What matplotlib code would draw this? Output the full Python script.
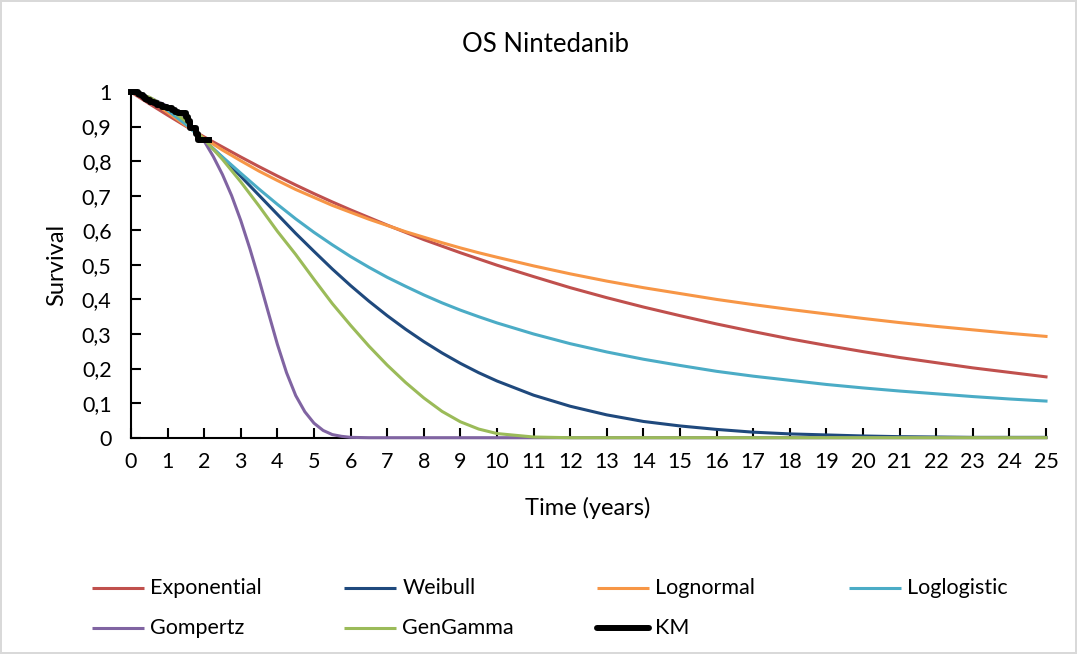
import numpy as np
import matplotlib.pyplot as plt
from matplotlib.lines import Line2D

plt.rcParams['font.family'] = ['Lato', 'DejaVu Sans']

# -------------------------------
# Data: fitted survival curves (years)
# -------------------------------
t_fit = [0, 0.5, 1, 1.5, 2, 2.5, 3, 3.5, 4, 4.5, 5, 5.5, 6, 6.5, 7, 7.5, 8, 8.5, 9, 9.5, 10,
         11, 12, 13, 14, 15, 16, 17, 18, 19, 20, 21, 22, 23, 24, 25]

exponential = [1, 0.966, 0.933, 0.901, 0.870, 0.841, 0.812, 0.784, 0.757, 0.731, 0.706,
               0.682, 0.659, 0.637, 0.615, 0.594, 0.573, 0.554, 0.535, 0.517, 0.499,
               0.466, 0.434, 0.405, 0.378, 0.353, 0.329, 0.307, 0.286, 0.267, 0.249,
               0.232, 0.217, 0.202, 0.189, 0.176]
weibull = [1, 0.983, 0.950, 0.909, 0.861, 0.810, 0.756, 0.701, 0.646, 0.591, 0.539,
           0.488, 0.440, 0.395, 0.353, 0.314, 0.278, 0.245, 0.215, 0.188, 0.164,
           0.123, 0.091, 0.066, 0.047, 0.034, 0.024, 0.016, 0.011, 0.008, 0.005,
           0.003, 0.002, 0.001, 0.001, 0.001]
lognormal = [1, 0.978, 0.941, 0.903, 0.866, 0.832, 0.801, 0.771, 0.744, 0.718, 0.695,
             0.672, 0.652, 0.632, 0.614, 0.596, 0.580, 0.564, 0.549, 0.535, 0.522,
             0.497, 0.474, 0.453, 0.434, 0.417, 0.400, 0.385, 0.371, 0.358, 0.345,
             0.333, 0.322, 0.312, 0.302, 0.293]
loglogistic = [1, 0.982, 0.947, 0.906, 0.859, 0.812, 0.765, 0.719, 0.675, 0.633, 0.594,
               0.558, 0.524, 0.493, 0.464, 0.438, 0.413, 0.390, 0.369, 0.350, 0.332,
               0.300, 0.272, 0.248, 0.227, 0.209, 0.192, 0.178, 0.166, 0.154, 0.144,
               0.135, 0.127, 0.119, 0.112, 0.106]
gengamma = [1, 0.985, 0.955, 0.915, 0.863, 0.805, 0.740, 0.670, 0.597, 0.530, 0.458,
            0.388, 0.325, 0.265, 0.210, 0.160, 0.115, 0.076, 0.046, 0.025, 0.012,
            0.002, 0, 0, 0, 0, 0, 0, 0, 0, 0, 0, 0, 0, 0, 0]

# Gompertz drops fast, so it has its own finer time grid
t_gomp = [0, 0.5, 1, 1.5, 2, 2.25, 2.5, 2.75, 3, 3.25, 3.5, 3.75, 4, 4.25, 4.5, 4.75,
          5, 5.25, 5.5, 5.75, 6, 6.5, 25]
gompertz = [1, 0.984, 0.959, 0.919, 0.858, 0.813, 0.761, 0.700, 0.628, 0.546, 0.457,
            0.363, 0.270, 0.188, 0.122, 0.075, 0.042, 0.021, 0.009, 0.004, 0.001, 0, 0]

# Kaplan-Meier steps
km_t = [0, 0.18, 0.25, 0.32, 0.38, 0.45, 0.52, 0.62, 0.72, 0.85, 0.97, 1.12, 1.2,
        1.28, 1.5, 1.56, 1.62, 1.78, 1.83, 2.14]
km_s = [1.0, 0.995, 0.99, 0.985, 0.98, 0.976, 0.972, 0.967, 0.962, 0.957, 0.953,
        0.948, 0.942, 0.938, 0.928, 0.915, 0.895, 0.878, 0.862, 0.862]

x_ticks = list(range(0, 26))
y_ticks = [0, 0.1, 0.2, 0.3, 0.4, 0.5, 0.6, 0.7, 0.8, 0.9, 1]
y_ticklabels = ['0', '0,1', '0,2', '0,3', '0,4', '0,5', '0,6', '0,7', '0,8', '0,9', '1']

series = [
    ('Exponential', t_fit, exponential, '#C0504D'),
    ('Weibull', t_fit, weibull, '#1F497D'),
    ('Lognormal', t_fit, lognormal, '#F79646'),
    ('Loglogistic', t_fit, loglogistic, '#4BACC6'),
    ('Gompertz', t_gomp, gompertz, '#8064A2'),
    ('GenGamma', t_fit, gengamma, '#9BBB59'),
]

# -------------------------------
# Figure
# -------------------------------
W, H = 1077, 654
fig = plt.figure(figsize=(W / 100, H / 100), dpi=100)
fig.patch.set_edgecolor('#D9D9D9')
fig.patch.set_linewidth(1.5)


def fx(px):
    return px / W


def fy(py):
    return 1 - py / H


ax = fig.add_axes([fx(131), fy(437.7), fx(1046) - fx(131), fy(92) - fy(437.7)])

for name, t, s, c in series:
    ax.plot(t, s, color=c, lw=2.2, clip_on=False, zorder=3)
ax.step(km_t, km_s, where='post', color='black', lw=4.3, clip_on=False, zorder=4)

ax.set_xlim(0, 25)
ax.set_ylim(0, 1)
ax.set_xticks(x_ticks)
ax.set_yticks(y_ticks)
ax.set_yticklabels(y_ticklabels)
ax.spines['top'].set_visible(False)
ax.spines['right'].set_visible(False)
for sp in ['left', 'bottom']:
    ax.spines[sp].set_linewidth(1.5)
    ax.spines[sp].set_zorder(2)
ax.tick_params(axis='both', direction='in', length=7, width=1.5, labelsize=15.5)
ax.tick_params(axis='y', pad=14)
ax.tick_params(axis='x', pad=10)

fig.text(fx(545), fy(44), 'OS Nintedanib', ha='center', va='center', fontsize=18.5)
fig.text(fx(57), fy(265), 'Survival', ha='center', va='center', rotation=90, fontsize=17)
fig.text(fx(588), fy(508), 'Time (years)', ha='center', va='center', fontsize=17)

# Legend drawn by hand: 4 columns, row-major order
entries = [(name, c, 2.2) for name, _, _, c in series] + [('KM', 'black', 4.3)]
for i, (name, c, lw) in enumerate(entries):
    col, row = i % 4, i // 4
    x0 = 92 + col * 252.3
    y0 = 588 + row * 40
    fig.add_artist(Line2D([fx(x0), fx(x0 + 52)], [fy(y0), fy(y0)], color=c, lw=lw,
                          solid_capstyle='round' if name == 'KM' else 'butt'))
    fig.text(fx(x0 + 58), fy(y0), name, ha='left', va='center', fontsize=15.5)

fig.savefig('out.png', dpi=100, edgecolor=fig.get_edgecolor())
plt.close()
